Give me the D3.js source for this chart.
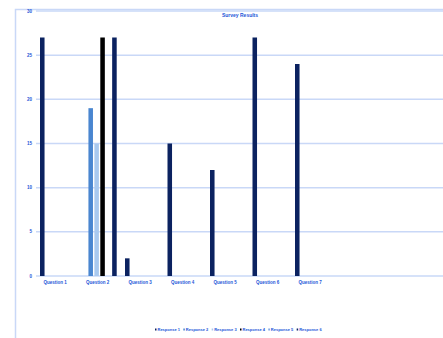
<!DOCTYPE html>
<html>
<head>
<meta charset="utf-8">
<script src="https://cdn.jsdelivr.net/npm/d3@7"></script>
<style>
  body { margin: 0; background: #fff; }
  svg { display: block; font-family: "Liberation Sans", Arial, sans-serif; }
</style>
</head>
<body>
<div id="chart"></div>
<script>
const categories = ["Question 1", "Question 2", "Question 3", "Question 4", "Question 5", "Question 6", "Question 7"];
const seriesNames = ["Response 1", "Response 2", "Response 3", "Response 4", "Response 5", "Response 6"];
const seriesColors = ["#0b2260", "#4a86d0", "#a9c9ef", "#000000", "#6f9be0", "#0b2260"];
// one array per series, one value per category
const response1 = [27, 0, 2, 15, 12, 27, 24];
const response2 = [0, 19, 0, 0, 0, 0, 0];
const response3 = [0, 15, 0, 0, 0, 0, 0];
const response4 = [0, 27, 0, 0, 0, 0, 0];
const response5 = [0, 0, 0, 0, 0, 0, 0];
const response6 = [0, 27, 0, 0, 0, 0, 0];
const yTicks = [0, 5, 10, 15, 20, 25, 30];

const seriesValues = [response1, response2, response3, response4, response5, response6];
const data = categories.map((c, i) => ({
  category: c,
  values: seriesNames.map((s, j) => ({ series: s, color: seriesColors[j], value: seriesValues[j][i] }))
}));

const width = 443;
const height = 338;
const margin = { top: 11, right: 0, bottom: 62, left: 36 };
const textColor = "#2356d8";
const gridColor = "#c9d8f7";

const svg = d3.select("#chart")
  .append("svg")
  .attr("width", width)
  .attr("height", height);

// outer frame
svg.append("rect")
  .attr("x", 15.5)
  .attr("y", 9.5)
  .attr("width", width)
  .attr("height", height)
  .attr("fill", "none")
  .attr("stroke", gridColor)
  .attr("stroke-width", 1.5);

const x = d3.scaleBand()
  .domain(categories)
  .range([34, 34 + 42.5 * categories.length]);

const xInner = d3.scaleBand()
  .domain(seriesNames)
  .range([6, 41])
  .paddingInner(0.1);

const y = d3.scaleLinear()
  .domain([0, 30])
  .range([height - margin.bottom, margin.top]);

// gridlines
svg.append("g")
  .selectAll("line")
  .data(yTicks)
  .join("line")
  .attr("x1", margin.left)
  .attr("x2", width)
  .attr("y1", d => y(d))
  .attr("y2", d => y(d))
  .attr("stroke", gridColor)
  .attr("stroke-width", 1.5);

// y axis labels
svg.append("g")
  .selectAll("text")
  .data(yTicks)
  .join("text")
  .attr("x", 32)
  .attr("y", d => y(d) + 1.5)
  .attr("text-anchor", "end")
  .attr("fill", textColor)
  .style("font-size", "4.5px")
  .style("font-weight", "bold")
  .text(d => d);

// x axis labels
svg.append("g")
  .selectAll("text")
  .data(categories)
  .join("text")
  .attr("x", d => x(d) + x.bandwidth() / 2)
  .attr("y", y(0) + 8)
  .attr("text-anchor", "middle")
  .attr("fill", textColor)
  .style("font-size", "4.5px")
  .style("font-weight", "bold")
  .text(d => d);

// bars
svg.append("g")
  .selectAll("g")
  .data(data)
  .join("g")
  .attr("transform", d => `translate(${x(d.category)},0)`)
  .selectAll("rect")
  .data(d => d.values.filter(v => v.value > 0))
  .join("rect")
  .attr("x", d => xInner(d.series))
  .attr("y", d => y(d.value))
  .attr("width", xInner.bandwidth() * 0.85)
  .attr("height", d => y(0) - y(d.value))
  .attr("fill", d => d.color);

// title
svg.append("text")
  .attr("x", 240)
  .attr("y", 17)
  .attr("text-anchor", "middle")
  .attr("fill", textColor)
  .style("font-size", "5px")
  .style("font-weight", "bold")
  .text("Survey Results");

// legend
const legendX = d3.scaleBand()
  .domain(seriesNames)
  .range([155, 325]);

const legend = svg.append("g")
  .selectAll("g")
  .data(seriesNames)
  .join("g")
  .attr("transform", d => `translate(${legendX(d)},331)`);

legend.append("rect")
  .attr("x", 0)
  .attr("y", -2.5)
  .attr("width", 1.5)
  .attr("height", 2)
  .attr("fill", (d, i) => seriesColors[i]);

legend.append("text")
  .attr("x", 2.5)
  .attr("y", 0)
  .attr("fill", textColor)
  .style("font-size", "4px")
  .style("font-weight", "bold")
  .text(d => d);
</script>
</body>
</html>
